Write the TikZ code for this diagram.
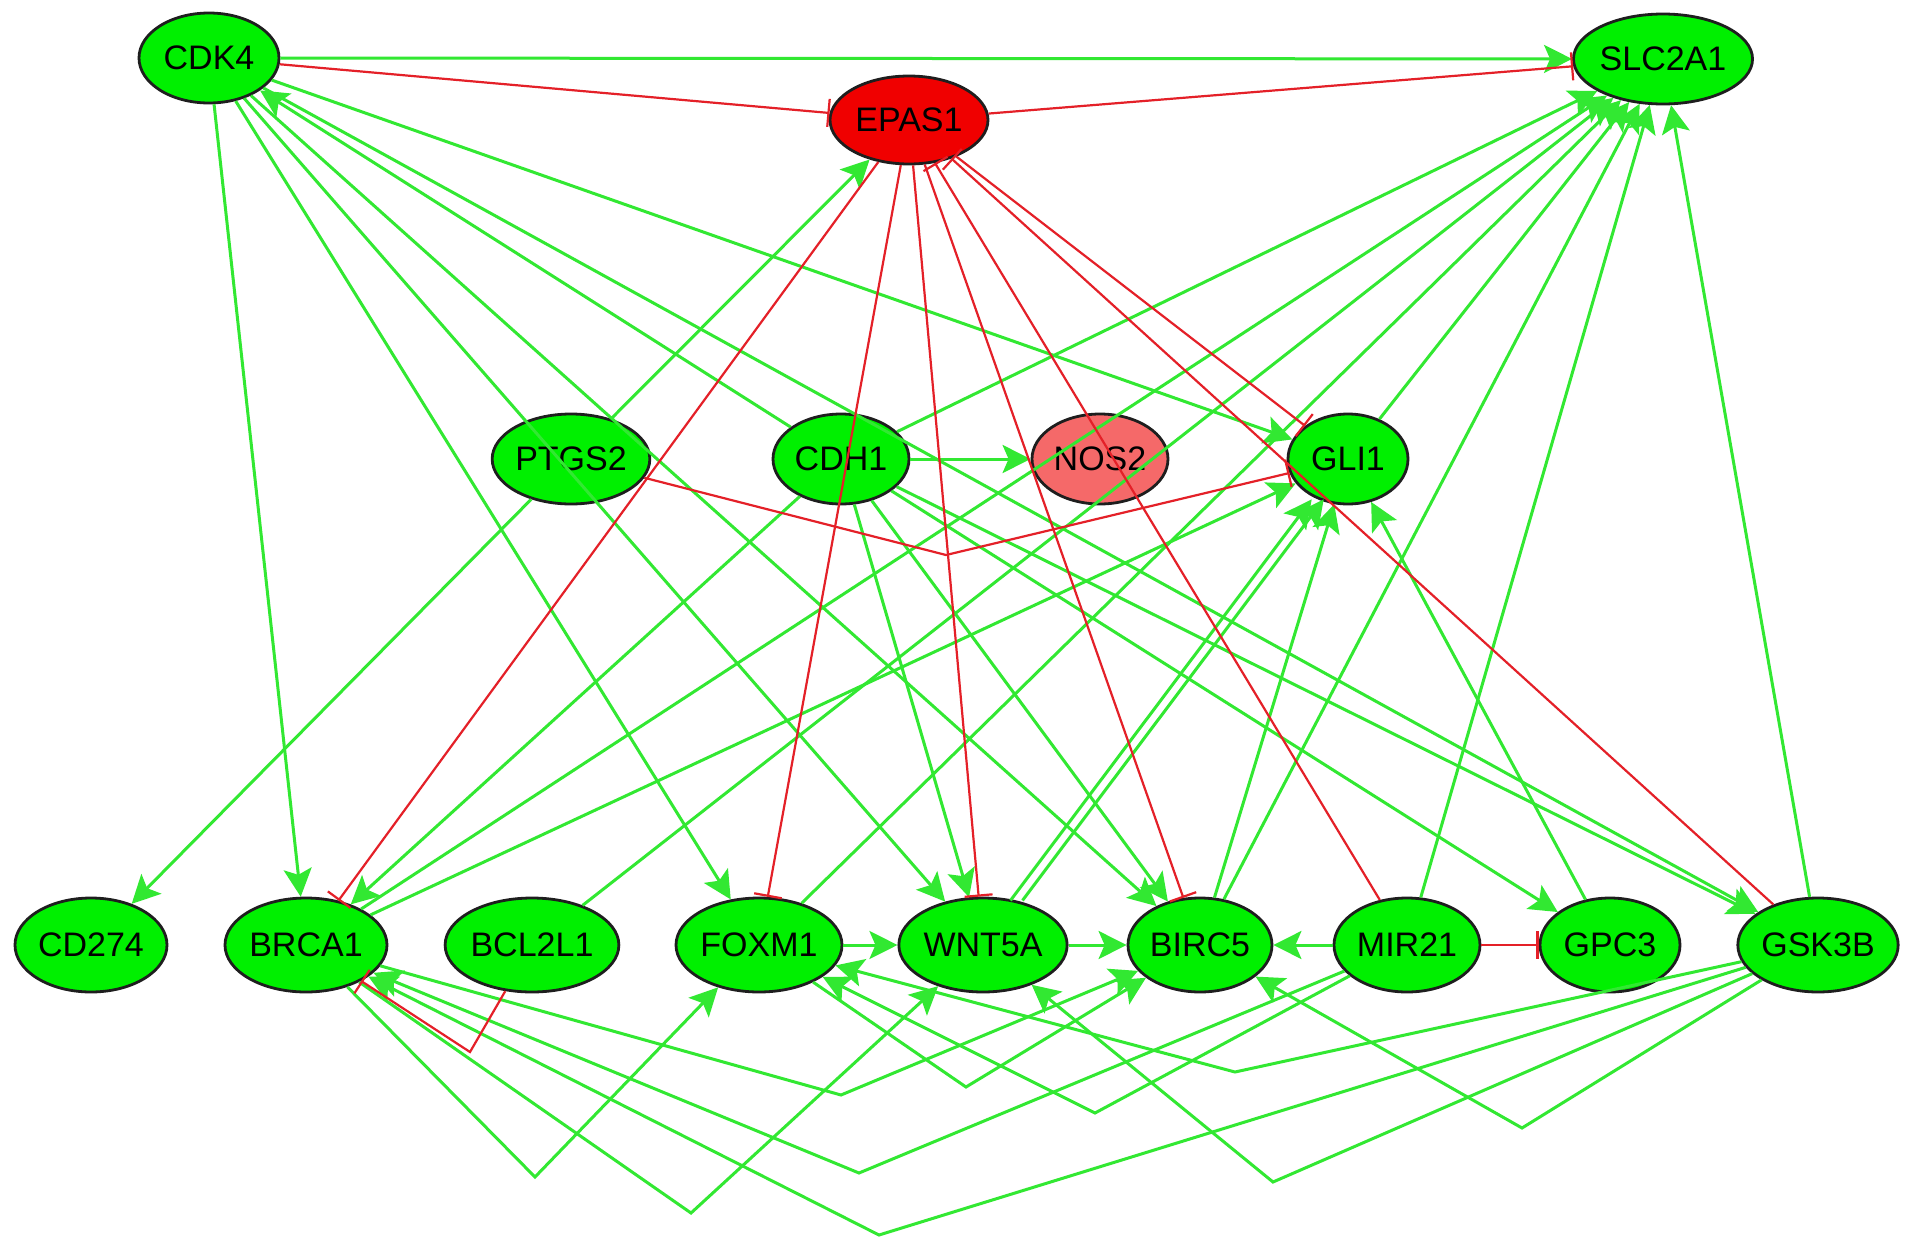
\documentclass[tikz,border=0pt]{standalone}
\usepackage{fontspec}
\setmainfont{Liberation Sans}
\usetikzlibrary{shapes.geometric,arrows.meta}
\definecolor{nodegreen}{RGB}{0,240,0}
\definecolor{linegreen}{RGB}{50,232,50}
\definecolor{nodered}{RGB}{240,0,0}
\definecolor{nodepink}{RGB}{245,105,105}
\definecolor{linered}{RGB}{228,32,40}
\definecolor{bordergray}{RGB}{30,30,30}
\begin{document}
\begin{tikzpicture}[x=0.5pt,y=-0.5pt,
  gene/.style={ellipse, draw=bordergray, line width=1.4pt, fill=nodegreen, inner sep=0pt,
    font=\fontsize{17}{19}\selectfont, text=black},
  act/.style={draw=linegreen, line width=1.5pt, -{Stealth[length=14pt,width=14pt,inset=3pt]}},
  inh/.style={draw=linered, line width=1.1pt, -{Bar[width=14pt]}},
]
\useasboundingbox[fill=white] (0,0) rectangle (1913,1253);

% nodes
\node[gene, minimum width=70pt, minimum height=45pt] (CDK4) at (209,58) {CDK4};
\node[gene, fill=nodered, minimum width=79pt, minimum height=44pt] (EPAS1) at (909,120) {EPAS1};
\node[gene, minimum width=88pt, minimum height=45pt] (SLC2A1) at (1663,59) {SLC2A1};
\node[gene, minimum width=77pt, minimum height=45pt] (PTGS2) at (571,459) {PTGS2};
\node[gene, minimum width=68pt, minimum height=45pt] (CDH1) at (841,459) {CDH1};
\node[gene, fill=nodepink, minimum width=68pt, minimum height=45pt] (NOS2) at (1100,459) {NOS2};
\node[gene, minimum width=60pt, minimum height=45pt] (GLI1) at (1348,459) {GLI1};
\node[gene, minimum width=76pt, minimum height=47pt] (CD274) at (91,945) {CD274};
\node[gene, minimum width=81pt, minimum height=47pt] (BRCA1) at (306,945) {BRCA1};
\node[gene, minimum width=85pt, minimum height=47pt] (BCL2L1) at (532,945) {BCL2L1};
\node[gene, minimum width=83pt, minimum height=47pt] (FOXM1) at (759,945) {FOXM1};
\node[gene, minimum width=83pt, minimum height=47pt] (WNT5A) at (983,945) {WNT5A};
\node[gene, minimum width=72pt, minimum height=47pt] (BIRC5) at (1200,945) {BIRC5};
\node[gene, minimum width=73pt, minimum height=47pt] (MIR21) at (1407,945) {MIR21};
\node[gene, minimum width=70pt, minimum height=47pt] (GPC3) at (1610,945) {GPC3};
\node[gene, minimum width=80pt, minimum height=47pt] (GSK3B) at (1818,945) {GSK3B};

% activation edges (straight)
\draw[act] (CDK4) -- (SLC2A1);
\draw[act] (CDK4) -- (BRCA1);
\draw[act] (CDK4) -- (FOXM1);
\draw[act] (CDK4) -- (WNT5A);
\draw[act] (CDK4) -- (BIRC5);
\draw[act] (CDK4) -- (GSK3B);
\draw[act] (CDK4) -- (GLI1);
\draw[act] (CDH1) -- (CDK4);
\draw[act] (CDH1) -- (GPC3);
\draw[act] (CDH1) -- (GSK3B);
\draw[act] (CDH1) -- (NOS2);
\draw[act] (CDH1) -- (SLC2A1);
\draw[act] (CDH1) -- (BRCA1);
\draw[act] (CDH1) -- (WNT5A);
\draw[act] (CDH1) -- (BIRC5);
\draw[act] (PTGS2) -- (EPAS1);
\draw[act] (PTGS2) -- (CD274);
\draw[act] (BRCA1) -- (SLC2A1);
\draw[act] (BRCA1) -- (GLI1);
\draw[act] (BCL2L1) -- (SLC2A1);
\draw[act] (FOXM1) -- (SLC2A1);
\draw[act] (FOXM1) -- (WNT5A);
\draw[act] (WNT5A) -- (BIRC5);
\draw[act, transform canvas={xshift=-3pt}] (WNT5A) -- (GLI1);
\draw[act, transform canvas={xshift=3pt}] (WNT5A) -- (GLI1);
\draw[act] (BIRC5) -- (GLI1);
\draw[act] (BIRC5) -- (SLC2A1);
\draw[act] (MIR21) -- (BIRC5);
\draw[act] (MIR21) -- (SLC2A1);
\draw[act] (GPC3) -- (GLI1);
\draw[act] (GLI1) -- (SLC2A1);
\draw[act] (GSK3B) -- (SLC2A1);

% activation edges (bent, below the bottom row)
\draw[act] (BRCA1) -- (535,1177) -- (FOXM1);
\draw[act] (BRCA1) -- (691,1213) -- (WNT5A);
\draw[act] (GSK3B) -- (879,1235) -- (BRCA1);
\draw[act] (BRCA1) -- (841,1095) -- (BIRC5);
\draw[act] (MIR21) -- (859,1173) -- (BRCA1);
\draw[act] (FOXM1) -- (966,1087) -- (BIRC5);
\draw[act] (GSK3B) -- (1235,1072) -- (FOXM1);
\draw[act] (MIR21) -- (1095,1113) -- (FOXM1);
\draw[act] (GSK3B) -- (1273,1182) -- (WNT5A);
\draw[act] (GSK3B) -- (1522,1128) -- (BIRC5);

% inhibition edges
\draw[inh] (CDK4) -- (EPAS1);
\draw[inh] (EPAS1) -- (SLC2A1);
\draw[inh] (EPAS1) -- (BRCA1);
\draw[inh] (EPAS1) -- (FOXM1);
\draw[inh] (EPAS1) -- (WNT5A);
\draw[inh] (EPAS1) -- (BIRC5);
\draw[inh] (EPAS1) -- (GLI1);
\draw[inh] (MIR21) -- (EPAS1);
\draw[inh] (GSK3B) -- (EPAS1);
\draw[inh] (MIR21) -- (GPC3);
\draw[inh] (PTGS2) -- (946,555) -- (GLI1);
\draw[inh] (BCL2L1) -- (470,1052) -- (BRCA1);
\end{tikzpicture}
\end{document}
